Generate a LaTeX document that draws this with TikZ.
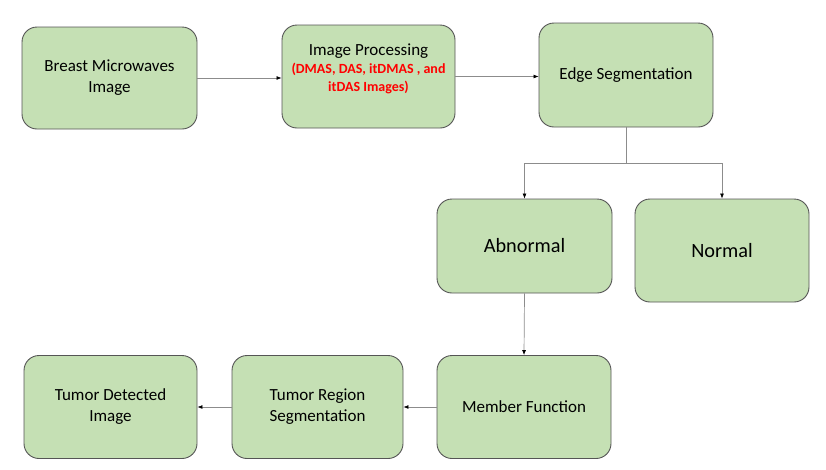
\documentclass[tikz,border=0pt]{standalone}
\usepackage{fontspec}
\setmainfont{Carlito}
\usetikzlibrary{arrows.meta,calc}
\definecolor{boxfill}{HTML}{C5E0B4}
\definecolor{boxline}{HTML}{555555}
\definecolor{conn}{HTML}{8C8C8C}
\begin{document}
\begin{tikzpicture}[x=1pt,y=-1pt,
  stagebox/.style={draw=boxline,fill=boxfill,line width=0.9pt,rounded corners=15pt,inner sep=0pt,align=center,font=\fontsize{17}{21}\selectfont},
  bigtxt/.style={font=\fontsize{20.3}{24}\selectfont},
  conna/.style={draw=conn,line width=0.7pt,-{Latex[length=5pt,width=4pt,color=black]}},
  connl/.style={draw=conn,line width=0.7pt}]
\useasboundingbox (0,0) rectangle (826,469);
\node[stagebox,minimum width=175pt,minimum height=102pt] (breast) at (109.5,78) {Breast Microwaves\\Image};
\node[stagebox,minimum width=173pt,minimum height=103pt] (ip) at (368.5,76.5) {};
\node[align=center,inner sep=0pt,font=\fontsize{17}{19}\selectfont] (ipt) at (368.5,69) {Image Processing\\[-1pt]{\color{red}\bfseries\fontsize{14}{17}\selectfont (DMAS, DAS, itDMAS , and}\\[-1pt]{\color{red}\bfseries\fontsize{14}{17}\selectfont itDAS Images)}};
\node[stagebox,minimum width=174pt,minimum height=104pt] (edge) at (626,75) {Edge Segmentation};
\node[stagebox,bigtxt,minimum width=175pt,minimum height=94pt] (abn) at (524.5,246) {Abnormal};
\node[stagebox,bigtxt,minimum width=174pt,minimum height=103pt] (norm) at (722,250.5) {Normal};
\node[stagebox,minimum width=174pt,minimum height=103pt] (member) at (524,407) {Member Function};
\node[stagebox,minimum width=171pt,minimum height=103pt] (region) at (317.5,407) {Tumor Region\\Segmentation};
\node[stagebox,minimum width=173pt,minimum height=103pt] (detect) at (110.5,407) {Tumor Detected\\Image};
\coordinate (split) at (626,163);
\draw[conna] (breast.east) -- (breast.east -| ip.west);
\draw[conna] (ip.east) -- (ip.east -| edge.west);
\draw[connl] (edge.south) -- (split);
\draw[conna] (split) -| (abn.north);
\draw[conna] (split) -| (norm.north);
\draw[conna] (abn.south) -- (member.north);
\draw[conna] (member.west) -- (region.east);
\draw[conna] (region.west) -- (detect.east);
\end{tikzpicture}
\end{document}
